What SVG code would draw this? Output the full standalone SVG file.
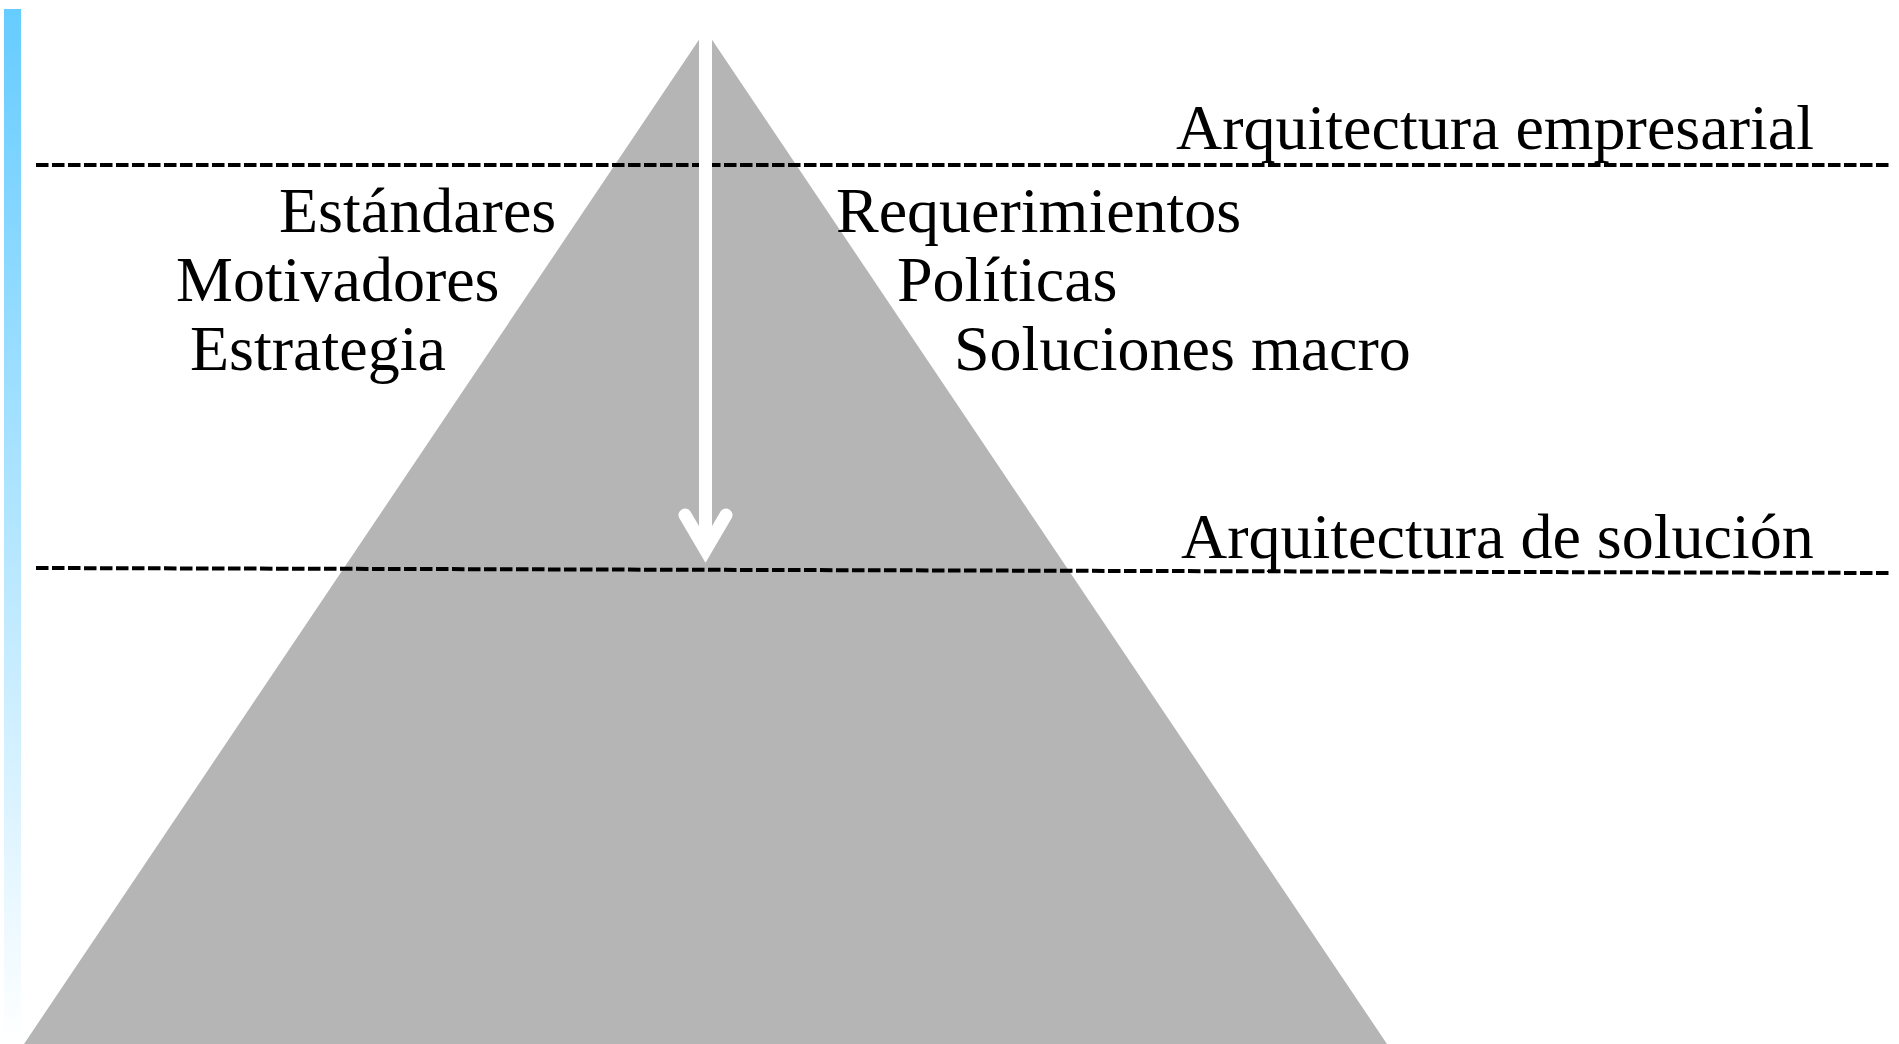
<svg xmlns="http://www.w3.org/2000/svg" width="1899" height="1044" viewBox="0 0 1899 1044">
<style>
.t{font-family:"Liberation Serif","Times New Roman",serif;font-size:64px;fill:#000}
.dash{stroke:#000;stroke-width:4;stroke-dasharray:12.5 3.5;fill:none}
.arrow{stroke:#fff;stroke-width:13;fill:none}
</style>
<defs>
<linearGradient id="bar" x1="0" y1="0" x2="0" y2="1">
<stop offset="0" stop-color="#66ccff"/>
<stop offset="1" stop-color="#ffffff"/>
</linearGradient>
</defs>
<rect width="1899" height="1044" fill="#fff"/>
<rect id="bar-left" x="4" y="9" width="17" height="1035" fill="url(#bar)"/>
<polygon id="pyramid" points="705.5,30 1387,1044 24,1044" fill="#b5b5b5"/>
<g id="connectors">
<line class="dash" x1="36" y1="165" x2="1890" y2="165"/>
<line class="dash" x1="36" y1="568" x2="1890" y2="573"/>
<line class="arrow" x1="705.5" y1="28" x2="705.5" y2="550"/>
<polyline class="arrow" points="685,515 705.5,550 726,515" stroke-linecap="round" stroke-linejoin="miter"/>
</g>
<g id="label-empresarial"><text class="t" x="1176" y="149">Arquitectura empresarial</text></g>
<g id="label-solucion"><text class="t" x="1181" y="558">Arquitectura de solución</text></g>
<g id="left-list">
<text class="t" x="279" y="232">Estándares</text>
<text class="t" x="176" y="301">Motivadores</text>
<text class="t" x="190" y="370">Estrategia</text>
</g>
<g id="right-list">
<text class="t" x="836" y="232">Requerimientos</text>
<text class="t" x="897" y="301">Políticas</text>
<text class="t" x="954" y="370">Soluciones macro</text>
</g>
</svg>
